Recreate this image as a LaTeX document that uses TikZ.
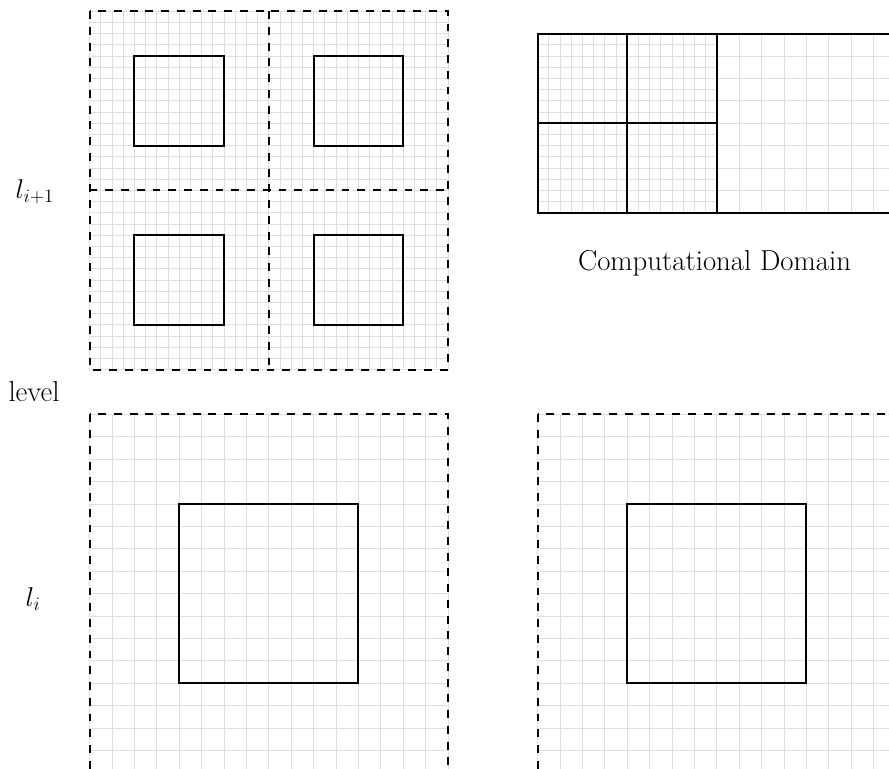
\documentclass[tikz,border=0pt]{standalone}
\begin{document}
\tikzset{
  gridline/.style={draw=black!13, line width=0.55pt},
  boxline/.style={draw=black, line width=1.3pt},
  dashline/.style={draw=black, line width=1.3pt, dash pattern=on 5pt off 5pt},
  lab/.style={font=\fontsize{16.6}{20}\selectfont, inner sep=0pt},
  txtlab/.style={font=\fontsize{18.3}{22}\selectfont, inner sep=0pt}
}
\begin{tikzpicture}
\useasboundingbox (0,0) rectangle (19.844,-17.165);
\clip (0,0) rectangle (19.844,-17.165);
% fine grid, upper level
\foreach \i in {0,...,32} {
  \draw[gridline] ({2+\i*0.25},-0.25) -- ++(0,-8);
  \draw[gridline] (2,{-0.25-\i*0.25}) -- ++(8,0);
}
% computational domain, fine part
\foreach \i in {0,...,16} {
  \draw[gridline] ({12+\i*0.25},-0.75) -- ++(0,-4);
  \draw[gridline] (12,{-0.75-\i*0.25}) -- ++(4,0);
}
% computational domain, coarse part
\foreach \i in {0,...,8} {
  \draw[gridline] ({16+\i*0.5},-0.75) -- ++(0,-4);
  \draw[gridline] (16,{-0.75-\i*0.5}) -- ++(4,0);
}
% coarse grid, lower level
\foreach \x in {2,12} {
  \foreach \i in {0,...,16} {
    \draw[gridline] ({\x+\i*0.5},-9.25) -- ++(0,-8);
    \draw[gridline] (\x,{-9.25-\i*0.5}) -- ++(8,0);
  }
}
% upper level: dashed square split in four, solid boxes
\draw[dashline] (2,-0.25) rectangle (10,-8.25);
\draw[dashline] (6,-0.25) -- (6,-8.25);
\draw[dashline] (2,-4.25) -- (10,-4.25);
\foreach \x in {2,6} {
  \foreach \y in {-0.25,-4.25} {
    \draw[boxline] ({\x+1},{\y-1}) rectangle ++(2,-2);
  }
}
% computational domain
\draw[boxline] (12,-0.75) rectangle (20,-4.75);
\draw[boxline] (14,-0.75) -- (14,-4.75);
\draw[boxline] (16,-0.75) -- (16,-4.75);
\draw[boxline] (12,-2.75) -- (16,-2.75);
% lower level
\foreach \x in {2,12} {
  \draw[dashline] (\x,-9.25) rectangle ++(8,-8);
  \draw[boxline] ({\x+2},-11.25) rectangle ++(4,-4);
}
% labels
\node[lab, anchor=base] (lup) at (0.78,-4.42) {$l_{i+1}$};
\node[txtlab, anchor=base] (lvl) at (0.76,-8.97) {level};
\node[lab, anchor=base] (llo) at (0.74,-13.53) {$l_i$};
\node[txtlab, anchor=base] (cd) at (15.95,-6.03) {Computational Domain};
\end{tikzpicture}
\end{document}
